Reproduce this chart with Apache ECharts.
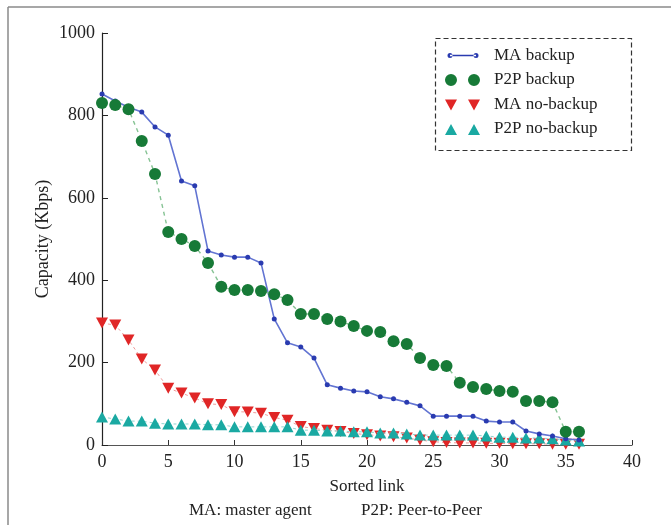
<!DOCTYPE html>
<html>
<head>
<meta charset="utf-8">
<script src="https://cdn.jsdelivr.net/npm/echarts@6/dist/echarts.min.js"></script>
<style>
  html, body { margin: 0; padding: 0; background: #fff; }
  #chart { width: 671px; height: 525px; }
</style>
</head>
<body>
<div id="chart"></div>
<script>
// values, link index 0..36
const maBackup = [852, 835, 820, 808, 772, 752, 641, 629, 471, 461, 456, 456, 442, 306, 248, 238, 211, 146, 138, 131, 129, 117, 112, 104, 95, 70, 70, 70, 70, 58, 56, 56, 34, 27, 22, 15, 12];
const p2pBackup = [830, 825, 815, 738, 658, 517, 500, 483, 442, 384, 376, 376, 374, 366, 352, 318, 318, 306, 300, 289, 277, 274, 252, 245, 211, 194, 192, 151, 141, 136, 131, 129, 107, 107, 104, 32, 32];
const maNoBackup = [296, 291, 255, 209, 182, 138, 126, 114, 100, 98, 81, 80, 77, 67, 60, 45, 40, 36, 33, 28, 25, 22, 20, 17, 12, 8, 6, 5, 5, 4, 4, 3, 3, 3, 2, 2, 2];
const p2pNoBackup = [68, 63, 58, 58, 53, 51, 51, 51, 49, 49, 44, 44, 44, 44, 44, 36, 36, 34, 34, 32, 32, 29, 29, 27, 24, 24, 24, 24, 24, 22, 19, 19, 17, 17, 15, 12, 10];
const seriesNames = ['MA backup', 'P2P backup', 'MA no-backup', 'P2P no-backup'];
const xTicks = [0, 5, 10, 15, 20, 25, 30, 35, 40];
const yTicks = [0, 200, 400, 600, 800, 1000];

const font = 'Liberation Serif';
const toPairs = arr => arr.map((v, i) => [i, v]);

// legend icons: two markers, like the original figure
const box = 'M0,0M44,12';
const icons = [
    box + 'M2.5,6a2.5,2.5 0 1,0 5,0a2.5,2.5 0 1,0 -5,0Z M28.5,6a2.5,2.5 0 1,0 5,0a2.5,2.5 0 1,0 -5,0Z M5,5.3H31V6.7H5Z',
    box + 'M0,6a6,6 0 1,0 12,0a6,6 0 1,0 -12,0Z M23,6a6,6 0 1,0 12,0a6,6 0 1,0 -12,0Z',
    box + 'M0,1H12L6,12Z M23,1H35L29,12Z',
    box + 'M0,12H12L6,1Z M23,12H35L29,1Z'
];

const chart = echarts.init(document.getElementById('chart'), null, { renderer: 'canvas' });

chart.setOption({
    animation: false,
    backgroundColor: '#fff',
    textStyle: { fontFamily: font },
    title: [
        { text: 'MA: master agent', left: 189, top: 502, textStyle: { fontFamily: font, fontSize: 17, fontWeight: 'normal', color: '#222' }, padding: 0 },
        { text: 'P2P: Peer-to-Peer', left: 361, top: 502, textStyle: { fontFamily: font, fontSize: 17, fontWeight: 'normal', color: '#222' }, padding: 0 }
    ],
    legend: {
        data: seriesNames.map((n, i) => ({ name: n, icon: 'path://' + icons[i] })),
        orient: 'vertical',
        left: 445,
        top: 47,
        padding: 0,
        itemWidth: 44,
        itemHeight: 12,
        itemGap: 7.5,
        selectedMode: false,
        textStyle: { fontFamily: font, fontSize: 17, color: '#222' }
    },
    grid: { left: 102, right: 39, top: 33, bottom: 80 },
    xAxis: {
        type: 'value',
        min: xTicks[0],
        max: xTicks[xTicks.length - 1],
        interval: 5,
        name: 'Sorted link',
        nameLocation: 'middle',
        nameGap: 33,
        nameTextStyle: { fontFamily: font, fontSize: 17, color: '#222' },
        axisLine: { lineStyle: { color: '#555', width: 1.2 } },
        axisTick: { inside: true, length: 5, lineStyle: { color: '#333' } },
        axisLabel: { fontFamily: font, fontSize: 18, color: '#222', margin: 8 },
        splitLine: { show: false }
    },
    yAxis: {
        type: 'value',
        min: yTicks[0],
        max: yTicks[yTicks.length - 1],
        interval: 200,
        name: 'Capacity (Kbps)',
        nameLocation: 'middle',
        nameGap: 50,
        nameMoveOverlap: false,
        nameTextStyle: { fontFamily: font, fontSize: 18, color: '#222' },
        axisLine: { show: true, lineStyle: { color: '#222', width: 1.2 } },
        axisTick: { show: true, inside: true, length: 6, lineStyle: { color: '#222' } },
        axisLabel: { fontFamily: font, fontSize: 18, color: '#222', margin: 7, formatter: v => String(v) },
        splitLine: { show: false }
    },
    series: [
        {
            name: seriesNames[0],
            type: 'line',
            z: 4,
            data: toPairs(maBackup),
            symbol: 'circle',
            symbolSize: 5,
            color: '#2a3bb0',
            itemStyle: { color: '#2a3bb0' },
            lineStyle: { color: '#6274d2', width: 1.6 }
        },
        {
            name: seriesNames[1],
            type: 'line',
            z: 5,
            data: toPairs(p2pBackup),
            symbol: 'circle',
            symbolSize: 12,
            color: '#177a37',
            itemStyle: { color: '#177a37' },
            lineStyle: { color: '#86c394', width: 1.4, type: [4, 4] }
        },
        {
            name: seriesNames[2],
            type: 'line',
            z: 2,
            data: toPairs(maNoBackup),
            symbol: 'triangle',
            symbolRotate: 180,
            symbolSize: [12, 11],
            color: '#e02626',
            itemStyle: { color: '#e02626' },
            lineStyle: { color: '#ee9a9a', width: 1, type: [3, 3] }
        },
        {
            name: seriesNames[3],
            type: 'line',
            z: 3,
            data: toPairs(p2pNoBackup),
            symbol: 'triangle',
            symbolSize: [12, 11],
            color: '#1aa9a2',
            itemStyle: { color: '#1aa9a2' },
            lineStyle: { color: '#8fd6d1', width: 1, type: [3, 3] }
        }
    ],
    graphic: [
        // dashed box round the legend
        { type: 'rect', left: 433, top: 36, shape: { width: 196, height: 112 }, style: { fill: 'none', stroke: '#333', lineWidth: 1.2, lineDash: [5, 3] }, z: 1 },
        // figure frame (top and left edges)
        { type: 'line', shape: { x1: 8, y1: 7, x2: 671, y2: 7 }, style: { stroke: '#8a8a8a', lineWidth: 1.5 } },
        { type: 'line', shape: { x1: 8, y1: 7, x2: 8, y2: 525 }, style: { stroke: '#8a8a8a', lineWidth: 1.5 } }
    ]
});

window.addEventListener('resize', () => chart.resize());
</script>
</body>
</html>
